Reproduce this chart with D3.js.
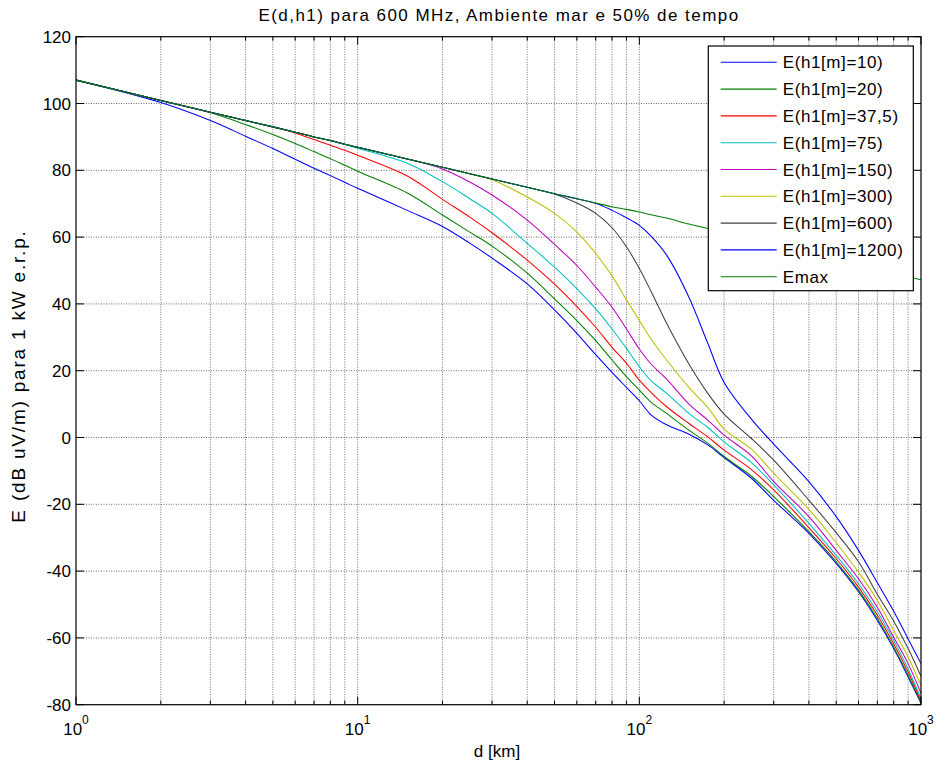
<!DOCTYPE html>
<html><head><meta charset="utf-8">
<script src="https://cdn.jsdelivr.net/npm/d3@7"></script>
<style>
body{margin:0;background:#fff}
svg{display:block}
text{font-family:"Liberation Sans",Arial,Helvetica,sans-serif;fill:#000}
</style>
</head><body><svg id="c" width="939" height="765"></svg>
<script>
// ---- data ----
const distances = [1,2,3,4,5,6,7,8,9,10,15,20,25,30,40,50,60,70,80,90,100,110,125,150,175,200,250,300,400,500,600,700,800,900,1000];
const h10   = [107.0,100.3,94.9,90.2,86.5,83.3,80.6,78.4,76.4,74.6, 68.0,63.2,58.2,53.7,46.0,38.2,31.2,24.8,19.5,15.0, 11.0,6.8,3.8,1.0,-2.2,-6.0,-12.2,-18.8,-28.7,-37.7, -46.2,-54.8,-63.2,-71.7,-79.6];
const h20   = [107.0,100.9,97.2,93.7,90.7,88.0,85.6,83.5,81.5,79.7, 73.2,66.6,61.5,57.3,49.2,41.5,35.0,29.0,23.2,18.2, 14.2,10.6,7.2,2.2,-1.7,-5.7,-11.6,-17.7,-28.2,-37.2, -45.7,-54.2,-62.8,-71.2,-79.3];
const h37_5 = [107.0,100.9,97.4,94.9,93.0,91.2,89.2,87.5,86.0,84.5, 78.3,71.3,66.0,61.3,53.1,45.9,39.2,33.0,27.0,22.2, 17.2,13.5,9.2,4.2,0.2,-3.8,-9.6,-15.7,-27.0,-36.3, -44.8,-53.2,-61.8,-70.2,-78.8];
const h75   = [107.0,100.9,97.4,94.9,93.0,91.4,90.0,88.9,87.7,86.6, 82.1,76.6,71.5,67.1,58.1,51.0,44.6,38.5,32.5,26.7, 21.2,17.0,13.2,7.2,3.0,-1.3,-7.5,-14.2,-25.7,-35.3, -43.8,-52.2,-60.8,-69.3,-78.2];
const h150  = [107.0,100.9,97.4,94.9,93.0,91.4,90.0,88.9,87.8,86.9, 83.4,80.4,76.5,72.6,65.1,57.8,51.5,45.0,39.0,32.5, 26.5,22.0,17.5,10.0,5.2,0.7,-5.5,-13.2,-23.7,-33.8, -42.3,-50.8,-59.8,-67.7,-76.6];
const h300  = [107.0,100.9,97.4,94.9,93.0,91.4,90.0,88.9,87.8,86.9, 83.4,80.9,79.0,77.2,72.0,67.1,61.5,55.1,48.4,41.2, 35.0,29.5,23.2,15.0,9.0,2.5,-3.5,-10.7,-21.5,-31.5, -40.3,-48.8,-57.8,-65.7,-74.2];
const h600  = [107.0,100.9,97.4,94.9,93.0,91.4,90.0,88.9,87.8,86.9, 83.4,80.9,79.0,77.4,74.9,72.9,70.2,67.1,62.8,57.1, 50.6,43.8,34.2,22.0,13.2,7.0,-0.3,-6.8,-18.8,-28.5, -37.2,-47.0,-55.0,-63.2,-71.5];
const h1200 = [107.0,100.9,97.4,94.9,93.0,91.4,90.0,88.9,87.8,86.9, 83.4,80.9,79.0,77.4,74.9,73.0,71.5,70.1,68.0,65.8, 63.5,60.3,54.6,42.0,28.2,16.5,5.5,-2.0,-13.2,-23.7, -33.8,-43.5,-52.0,-60.3,-67.7];
const emax  = [107.0,100.9,97.4,94.9,93.0,91.4,90.0,88.9,87.8,86.9, 83.4,80.9,79.0,77.4,74.9,73.0,71.5,70.2,69.1,68.3, 67.5,66.7,65.7,63.9,62.6,61.2,59.2,57.6,55.1,53.2, 51.6,50.3,49.1,48.1,47.2];

const seriesNames = ["E(h1[m]=10)","E(h1[m]=20)","E(h1[m]=37,5)","E(h1[m]=75)","E(h1[m]=150)","E(h1[m]=300)","E(h1[m]=600)","E(h1[m]=1200)","Emax"];
const seriesValues = [h10,h20,h37_5,h75,h150,h300,h600,h1200,emax];
const seriesColors = ["#0000ff","#008000","#ff0000","#00bfbf","#bf00bf","#bfbf00","#404040","#0000ff","#008000"];
const yTickValues = [-80,-60,-40,-20,0,20,40,60,80,100,120];
const xDecades = [1,10,100,1000];
const xDecadeExp = ["0","1","2","3"];
const titleText = "E(d,h1) para 600 MHz, Ambiente mar e 50% de tempo";
const xLabelText = "d [km]";
const yLabelText = "E (dB uV/m) para 1 kW e.r.p.";

// ---- layout ----
const L=76, R=921, T=36.7, B=704.7;
const svg = d3.select("#c");
const x = d3.scaleLog().domain([1,1000]).range([L,R]);
const y = d3.scaleLinear().domain([-80,120]).range([B,T]);

const allLogTicks = [];
for (let e=0;e<3;e++){ for(let k=1;k<10;k++){ allLogTicks.push(k*Math.pow(10,e)); } }
allLogTicks.push(1000);
const minorTicks = allLogTicks.filter(v=>!xDecades.includes(v));

svg.append("rect").attr("x",L).attr("y",T).attr("width",R-L).attr("height",B-T).attr("fill","#fff");

const grid = svg.append("g").attr("stroke","#000").attr("stroke-width",0.8).attr("stroke-dasharray","1,1.5").attr("opacity",0.7);
allLogTicks.filter(v=>v>1&&v<1000).forEach(v=>{
  grid.append("line").attr("x1",x(v)).attr("x2",x(v)).attr("y1",T).attr("y2",B);
});
yTickValues.filter(v=>v>-80&&v<120).forEach(v=>{
  grid.append("line").attr("x1",L).attr("x2",R).attr("y1",y(v)).attr("y2",y(v));
});

svg.append("clipPath").attr("id","clip").append("rect").attr("x",L).attr("y",T).attr("width",R-L).attr("height",B-T);

const line = d3.line().x((d,i)=>x(distances[i])).y(d=>y(d)).curve(d3.curveCatmullRom.alpha(0.5));
const lg = svg.append("g").attr("clip-path","url(#clip)");
seriesValues.forEach((vals,i)=>{
  lg.append("path").attr("d",line(vals)).attr("fill","none").attr("stroke",seriesColors[i]).attr("stroke-width",1.05).attr("stroke-linejoin","round");
});

svg.append("rect").attr("x",L).attr("y",T).attr("width",R-L).attr("height",B-T).attr("fill","none").attr("stroke","#000").attr("stroke-width",1.2);

const tk = svg.append("g").attr("stroke","#000").attr("stroke-width",1);
xDecades.forEach(v=>{
  tk.append("line").attr("x1",x(v)).attr("x2",x(v)).attr("y1",B).attr("y2",B-8);
  tk.append("line").attr("x1",x(v)).attr("x2",x(v)).attr("y1",T).attr("y2",T+8);
});
minorTicks.forEach(v=>{
  tk.append("line").attr("x1",x(v)).attr("x2",x(v)).attr("y1",B).attr("y2",B-4);
  tk.append("line").attr("x1",x(v)).attr("x2",x(v)).attr("y1",T).attr("y2",T+4);
});
yTickValues.forEach(v=>{
  tk.append("line").attr("x1",L).attr("x2",L+8).attr("y1",y(v)).attr("y2",y(v));
  tk.append("line").attr("x1",R).attr("x2",R-8).attr("y1",y(v)).attr("y2",y(v));
});

yTickValues.forEach(v=>{
  svg.append("text").attr("x",L-5).attr("y",y(v)+6).attr("text-anchor","end").attr("font-size",17).text(v);
});
xDecades.forEach((v,i)=>{
  const t = svg.append("text").attr("x",x(v)).attr("y",735).attr("text-anchor","middle").attr("font-size",17);
  t.append("tspan").text("10");
  t.append("tspan").attr("font-size",12).attr("dy",-11).text(xDecadeExp[i]);
});

svg.append("text").attr("x",499).attr("y",21).attr("text-anchor","middle").attr("font-size",17).attr("letter-spacing",1.45).text(titleText);
svg.append("text").attr("x",497).attr("y",757).attr("text-anchor","middle").attr("font-size",17).text(xLabelText);
svg.append("text").attr("transform","translate(25,376) rotate(-90)").attr("text-anchor","middle").attr("font-size",19).attr("letter-spacing",1.8).text(yLabelText);

const lgX=708.3, lgY=46, lgW=205, lgH=244.7;
svg.append("rect").attr("x",lgX).attr("y",lgY).attr("width",lgW).attr("height",lgH).attr("fill","#fff").attr("stroke","#000").attr("stroke-width",1.2);
seriesNames.forEach((n,i)=>{
  const yy = 62.3 + i*26.8;
  svg.append("line").attr("x1",720.7).attr("x2",776.7).attr("y1",yy).attr("y2",yy).attr("stroke",seriesColors[i]).attr("stroke-width",1.1);
  svg.append("text").attr("x",782.7).attr("y",yy+6).attr("font-size",17).attr("letter-spacing",0.6).text(n);
});
</script></body></html>
